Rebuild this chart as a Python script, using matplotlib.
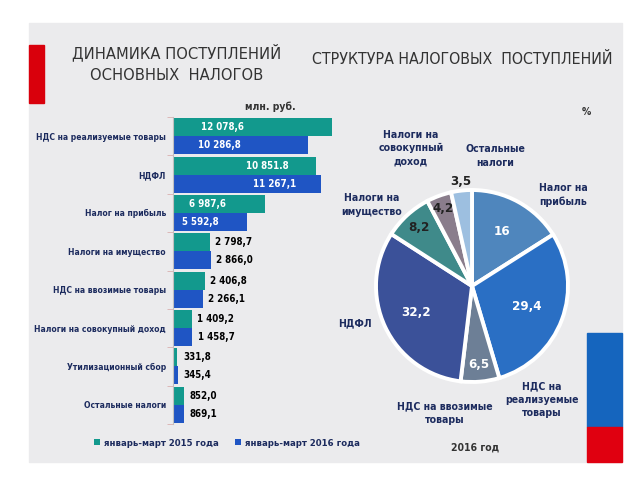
import matplotlib
matplotlib.use("Agg")
import matplotlib.pyplot as plt
import numpy as np
from matplotlib.patches import Rectangle

# ---------------- data ----------------
categories = ["НДС на реализуемые товары", "НДФЛ", "Налог на прибыль",
              "Налоги на имущество", "НДС на ввозимые товары",
              "Налоги на совокупный доход", "Утилизационный сбор",
              "Остальные налоги"]
values_2015 = [12078.6, 10851.8, 6987.6, 2798.7, 2406.8, 1409.2, 331.8, 852.0]
values_2016 = [10286.8, 11267.1, 5592.8, 2866.0, 2266.1, 1458.7, 345.4, 869.1]
labels_2015 = ["12 078,6", "10 851.8", "6 987,6", "2 798,7", "2 406,8", "1 409,2", "331,8", "852,0"]
labels_2016 = ["10 286,8", "11 267,1", "5 592,8", "2 866,0", "2 266,1", "1 458,7", "345,4", "869,1"]
legend_labels = ["январь-март 2015 года", "январь-март 2016 года"]

pie_names = ["Налог на\nприбыль", "НДС на\nреализуемые\nтовары", "НДС на ввозимые\nтовары",
             "НДФЛ", "Налоги на\nимущество", "Налоги на\nсовокупный\nдоход", "Остальные\nналоги"]
pie_values = [16, 29.4, 6.5, 32.2, 8.2, 4.2, 3.5]
pie_labels = ["16", "29,4", "6,5", "32,2", "8,2", "4,2", "3,5"]

# ---------------- style ----------------
W, H = 640, 480
plt.rcParams['font.family'] = ["DejaVu Sans"]
plt.rcParams['font.stretch'] = "condensed"
NAVY = "#1c2b5e"
DARK = "#333333"
TEAL = "#12998d"
BLUE = "#1f55c4"
pie_colors = ["#4f86bd", "#2a6fc4", "#6d7f96", "#3b5199", "#3f8a8a", "#8a7d8c", "#9dbfe0"]

fig = plt.figure(figsize=(6.4, 4.8), dpi=100)
fig.patch.set_facecolor("white")

def px(x, y):
    return x / W, 1 - y / H

# background panel and decorations
bg = fig.add_axes([0, 0, 1, 1])
bg.set_xlim(0, W); bg.set_ylim(H, 0); bg.axis("off")
bg.add_patch(Rectangle((29, 23), 593, 439, color="#ebebed", zorder=0))
bg.add_patch(Rectangle((29, 45), 15, 58, color="#d9000c", zorder=1))
bg.add_patch(Rectangle((587, 333), 35, 94, color="#1565be", zorder=1))
bg.add_patch(Rectangle((587, 427), 35, 35, color="#e00010", zorder=1))

# titles
fig.text(*px(177, 52), "ДИНАМИКА ПОСТУПЛЕНИЙ", ha="center", va="center", fontsize=11.8, color=DARK)
fig.text(*px(177, 76), "ОСНОВНЫХ  НАЛОГОВ", ha="center", va="center", fontsize=11.8, color=DARK)
fig.text(*px(462, 60), "СТРУКТУРА НАЛОГОВЫХ  ПОСТУПЛЕНИЙ", ha="center", va="center", fontsize=11.4, color=DARK)
fig.text(*px(270, 107), "млн. руб.", ha="center", va="center", fontsize=7.5, color=DARK, fontweight="bold")
fig.text(*px(586, 112), "%", ha="center", va="center", fontsize=7.5, color=DARK, fontweight="bold")
fig.text(*px(475, 447), "2016 год", ha="center", va="center", fontsize=7.5, color=DARK, fontweight="bold")

# ---------------- bar chart ----------------
x0, x1, y0, y1 = 173, 340, 117, 424
ax = fig.add_axes([x0 / W, 1 - y1 / H, (x1 - x0) / W, (y1 - y0) / H])
ax.set_facecolor("none")
n = len(categories)
idx = np.arange(n)
h = 0.47
ax.barh(idx - h / 2, values_2015, height=h, color=TEAL, label=legend_labels[0])
ax.barh(idx + h / 2, values_2016, height=h, color=BLUE, label=legend_labels[1])
ax.set_xlim(0, 12700)
ax.set_ylim(n - 0.5, -0.5)
for s in ["top", "right", "bottom"]:
    ax.spines[s].set_visible(False)
ax.spines["left"].set_color("#bfbfbf")
ax.set_xticks([])
ax.set_yticks(idx)
ax.set_yticklabels(categories, fontsize=6.1, color=NAVY, fontweight="bold")
ax.tick_params(axis="y", length=0, pad=5)
ax.set_yticks(np.arange(-0.5, n, 1), minor=True)
ax.tick_params(axis="y", which="minor", length=4, color="#d8b0b0")

inside = [True, True, True, False, False, False, False, False]
inside_center = [3800, 7200, 2600]  # label centres (data units) for inside labels, 2015
inside_center16 = [3500, 7750, 2100]
for i in range(n):
    for vals, labs, off, centers in ((values_2015, labels_2015, -h / 2, inside_center),
                                     (values_2016, labels_2016, h / 2, inside_center16)):
        if inside[i]:
            ax.text(centers[i], i + off, labs[i], ha="center", va="center",
                    color="white", fontsize=7.0, fontweight="bold")
        else:
            ax.annotate(labs[i], (vals[i], i + off), xytext=(4, 0), textcoords="offset points",
                        ha="left", va="center", color="black", fontsize=7.0, fontweight="bold")

leg = fig.legend(handles=ax.get_legend_handles_labels()[0], labels=legend_labels,
                 loc="center", bbox_to_anchor=px(227, 443), ncol=2, frameon=False,
                 handlelength=0.6, handleheight=0.6, handletextpad=0.4,
                 columnspacing=1.8, prop={"weight": "bold", "size": 6.8, "stretch": "condensed"})
for t in leg.get_texts():
    t.set_color(NAVY)

# ---------------- pie chart ----------------
cx, cy, r = 472, 286, 96
pax = fig.add_axes([(cx - r) / W, 1 - (cy + r) / H, 2 * r / W, 2 * r / H])
wedges, _ = pax.pie(pie_values, colors=pie_colors, startangle=90, counterclock=False,
                    wedgeprops=dict(edgecolor="white", linewidth=2.8))
pax.set_xlim(-1, 1); pax.set_ylim(-1, 1)

dist = [0.65, 0.61, 0.82, 0.64, 0.82, 0.86, 1.1]
lab_colors = ["white", "white", "white", "white", "#222222", "#222222", "#222222"]
for w, lab, d, c in zip(wedges, pie_labels, dist, lab_colors):
    a = np.deg2rad((w.theta1 + w.theta2) / 2)
    pax.text(d * np.cos(a), d * np.sin(a), lab, ha="center", va="center",
             fontsize=9.5, fontweight="bold", color=c)

name_pos = [(563, 195), (542, 400), (445, 413), (355, 323), (372, 205), (411, 148), (495, 156)]
for name, (x, y) in zip(pie_names, name_pos):
    fig.text(*px(x, y), name, ha="center", va="center", fontsize=7.6, color=NAVY,
             fontweight="bold", linespacing=1.4)

fig.savefig("out.png", dpi=100)
